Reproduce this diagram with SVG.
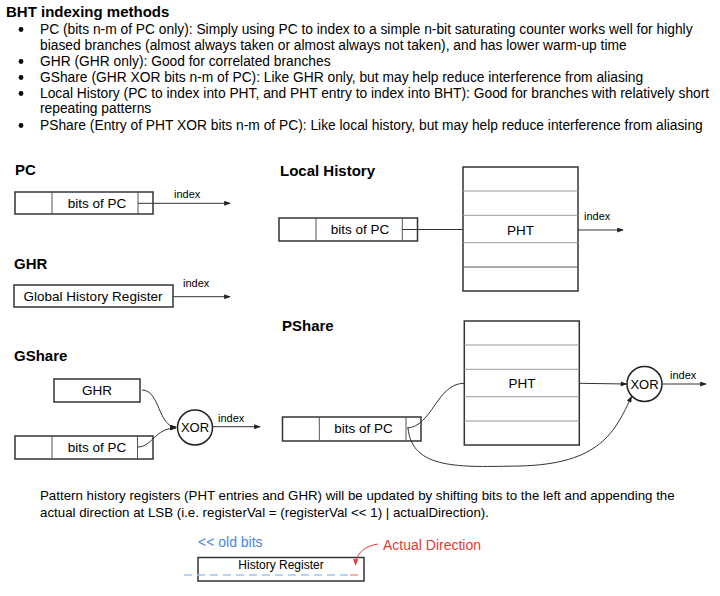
<svg xmlns="http://www.w3.org/2000/svg" width="720" height="596" viewBox="0 0 720 596">
<style>
text{font-family:"Liberation Sans",Arial,sans-serif;fill:#000}
.t{font-size:13.3px}
.h{font-size:15px;font-weight:bold}
.b{font-size:13.8px}
.lbl{font-size:13.5px;text-anchor:middle}
.idx{font-size:11px}
.box{fill:#fff;stroke:#333;stroke-width:1.5}
.div{stroke:#555;stroke-width:1}
.row{stroke:#999;stroke-width:1}
.ln{fill:none;stroke:#333;stroke-width:1}
</style>
<defs>
<marker id="ah" viewBox="0 0 8 6" refX="7" refY="3" markerWidth="7" markerHeight="5" markerUnits="userSpaceOnUse" orient="auto">
<path d="M0,0 L8,3 L0,6 z" fill="#222"/>
</marker>
<marker id="ahr" viewBox="0 0 8 6" refX="7" refY="3" markerWidth="7" markerHeight="5" markerUnits="userSpaceOnUse" orient="auto">
<path d="M0,0 L8,3 L0,6 z" fill="#e53935"/>
</marker>
</defs>
<rect width="720" height="596" fill="#fff"/>

<g id="intro">
<text class="h" x="6" y="17">BHT indexing methods</text>
<g fill="#000">
<circle cx="21" cy="29.5" r="2.4"/>
<circle cx="21" cy="61.5" r="2.4"/>
<circle cx="21" cy="77.5" r="2.4"/>
<circle cx="21" cy="93.5" r="2.4"/>
<circle cx="21" cy="125.5" r="2.4"/>
</g>
<text class="b" x="40" y="33.5">PC (bits n-m of PC only): Simply using PC to index to a simple n-bit saturating counter works well for highly</text>
<text class="b" x="40" y="49.5">biased branches (almost always taken or almost always not taken), and has lower warm-up time</text>
<text class="b" x="40" y="65.5">GHR (GHR only): Good for correlated branches</text>
<text class="b" x="40" y="81.5">GShare (GHR XOR bits n-m of PC): Like GHR only, but may help reduce interference from aliasing</text>
<text class="b" x="40" y="97.5">Local History (PC to index into PHT, and PHT entry to index into BHT): Good for branches with relatively short</text>
<text class="b" x="40" y="113">repeating patterns</text>
<text class="b" x="40" y="129.5">PShare (Entry of PHT XOR bits n-m of PC): Like local history, but may help reduce interference from aliasing</text>
</g>

<g id="pc-section">
<text class="h" x="15" y="175">PC</text>
<g id="pc-reg">
<rect class="box" x="15" y="192" width="138" height="22"/>
<line class="div" x1="52" y1="192" x2="52" y2="214"/>
<line class="div" x1="138" y1="192" x2="138" y2="214"/>
<text class="lbl" x="97" y="207.5">bits of PC</text>
</g>
<text class="idx" x="174" y="198">index</text>
</g>

<g id="ghr-section">
<text class="h" x="14" y="269">GHR</text>
<g id="ghr-reg">
<rect class="box" x="14" y="285" width="159" height="22"/>
<text class="lbl" x="93" y="301">Global History Register</text>
</g>
<text class="idx" x="183" y="287">index</text>
</g>

<g id="gshare-section">
<text class="h" x="14" y="361">GShare</text>
<g id="gshare-ghr">
<rect class="box" x="54" y="379" width="86" height="23"/>
<text class="lbl" x="97" y="395">GHR</text>
</g>
<g id="gshare-pc">
<rect class="box" x="15" y="436" width="138" height="23"/>
<line class="div" x1="52" y1="436" x2="52" y2="459"/>
<line class="div" x1="137.5" y1="436" x2="137.5" y2="459"/>
<text class="lbl" x="97" y="452">bits of PC</text>
</g>
<g id="gshare-xor">
<circle cx="195" cy="427.5" r="17.5" fill="#fff" stroke="#222" stroke-width="1.5"/>
<text class="lbl" x="195" y="432" style="font-size:13px">XOR</text>
</g>
<text class="idx" x="218" y="421.5">index</text>
</g>

<g id="local-section">
<text class="h" x="280" y="176">Local History</text>
<g id="local-pc">
<rect class="box" x="279" y="218" width="138.5" height="23"/>
<line class="div" x1="316" y1="218" x2="316" y2="241"/>
<line class="div" x1="402.3" y1="218" x2="402.3" y2="241"/>
<text class="lbl" x="360" y="234">bits of PC</text>
</g>
<g id="local-pht">
<rect class="box" x="463" y="167" width="115" height="124"/>
<line class="row" x1="463" y1="191" x2="578" y2="191"/>
<line class="row" x1="463" y1="215.3" x2="578" y2="215.3"/>
<line class="row" x1="463" y1="242.7" x2="578" y2="242.7"/>
<line class="div" x1="463" y1="267" x2="578" y2="267" stroke="#333" stroke-width="1.5"/>
<text class="lbl" x="520.5" y="235">PHT</text>
</g>
<text class="idx" x="584" y="220">index</text>
</g>

<g id="pshare-section">
<text class="h" x="282" y="331">PShare</text>
<g id="pshare-pc">
<rect class="box" x="282.5" y="417" width="138.5" height="24"/>
<line class="div" x1="319.3" y1="417" x2="319.3" y2="441"/>
<line class="div" x1="406" y1="417" x2="406" y2="441"/>
<text class="lbl" x="363.5" y="433">bits of PC</text>
</g>
<g id="pshare-pht">
<rect class="box" x="464.3" y="321" width="115" height="124"/>
<line class="row" x1="464.3" y1="345" x2="579.3" y2="345"/>
<line class="row" x1="464.3" y1="369.3" x2="579.3" y2="369.3"/>
<line class="row" x1="464.3" y1="396.7" x2="579.3" y2="396.7"/>
<line class="row" x1="464.3" y1="421" x2="579.3" y2="421"/>
<text class="lbl" x="522" y="388">PHT</text>
</g>
<g id="pshare-xor">
<circle cx="644.5" cy="384" r="17.5" fill="#fff" stroke="#222" stroke-width="1.5"/>
<text class="lbl" x="644.5" y="388.5" style="font-size:13px">XOR</text>
</g>
<text class="idx" x="670" y="379">index</text>
</g>

<g id="connectors">
<path class="ln" d="M138,203.3 L230,203.3" marker-end="url(#ah)"/>
<path class="ln" d="M173,296.7 L230,296.7" marker-end="url(#ah)"/>
<path class="ln" d="M142,390 C160,390 158,427 176,427" marker-end="url(#ah)"/>
<path class="ln" d="M138,447 C152,447 155,428 176,428" marker-end="url(#ah)"/>
<path class="ln" d="M212.5,426.7 L260,426.7" marker-end="url(#ah)"/>
<path class="ln" d="M402.3,229.5 L463,229.5"/>
<path class="ln" d="M578,230 L623,230" marker-end="url(#ah)"/>
<path class="ln" d="M407,428 C432,427 437,383 464.3,383.3"/>
<path class="ln" d="M579.3,383.3 L626.5,384" marker-end="url(#ah)"/>
<path class="ln" d="M408,428 C412,470 460,467 520,466 C600,464 615,432 631.5,396.5" marker-end="url(#ah)"/>
<path class="ln" d="M662,384 L706,384" marker-end="url(#ah)"/>
</g>

<g id="footer">
<text class="t" x="40" y="500">Pattern history registers (PHT entries and GHR) will be updated by shifting bits to the left and appending the</text>
<text class="t" x="40" y="517">actual direction at LSB (i.e. registerVal = (registerVal &lt;&lt; 1) | actualDirection).</text>
</g>

<g id="history-register">
<text x="198" y="547" font-size="14" style="fill:#4a86e8">&lt;&lt; old bits</text>
<text x="383" y="549.5" font-size="14" style="fill:#e53935">Actual Direction</text>
<rect class="box" x="198" y="557.5" width="166" height="23.5"/>
<text x="281" y="569" font-size="12" text-anchor="middle">History Register</text>
<line x1="184" y1="575" x2="348" y2="575" stroke="#a4c2f4" stroke-width="1.5" stroke-dasharray="8,5"/>
<line x1="350" y1="575" x2="358" y2="575" stroke="#ea9999" stroke-width="1.5"/>
<path d="M378,544 C366,546 356,552 355.5,565" fill="none" stroke="#e53935" stroke-width="1" marker-end="url(#ahr)"/>
</g>
</svg>
